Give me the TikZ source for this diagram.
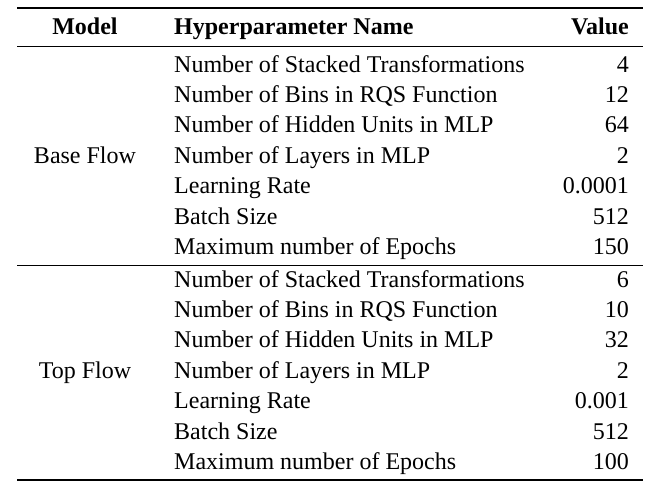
\documentclass[tikz,border=0pt]{standalone}
\usepackage{fontspec}
\setmainfont{Liberation Serif}
\begin{document}
\begin{tikzpicture}[x=1pt,y=-1pt,
  cell/.style={inner sep=0pt,font=\fontsize{24}{27}\selectfont,anchor=base},
  hd/.style={cell,font=\fontsize{24}{27}\selectfont\bfseries}]
\useasboundingbox (0,0) rectangle (657,490);
\draw[line width=1.6pt] (17,8) -- (643,8);
\draw[line width=1pt] (17,46) -- (643,46);
\draw[line width=1pt] (17,265) -- (643,265);
\draw[line width=1.6pt] (17,480) -- (643,480);
\node[hd] (h1) at (85,34) {Model};
\node[hd,anchor=base west] (h2) at (174,34) {Hyperparameter Name};
\node[hd,anchor=base east] (h3) at (629,34) {Value};
\foreach \n [count=\i] in {Number of Stacked Transformations,Number of Bins in RQS Function,Number of Hidden Units in MLP,Number of Layers in MLP,Learning Rate,Batch Size,Maximum number of Epochs}{
  \node[cell,anchor=base west] (a\i) at (174,{72+(\i-1)*30.4}) {\n};
  \node[cell,anchor=base west] (b\i) at (174,{287+(\i-1)*30.4}) {\n};
}
\foreach \v [count=\i] in {4,12,64,2,0.0001,512,150}{
  \node[cell,anchor=base east] (va\i) at (629,{72+(\i-1)*30.4}) {\v};
}
\foreach \v [count=\i] in {6,10,32,2,0.001,512,100}{
  \node[cell,anchor=base east] (vb\i) at (629,{287+(\i-1)*30.4}) {\v};
}
\node[cell] (m1) at (85,163) {Base Flow};
\node[cell] (m2) at (85,378) {Top Flow};
\end{tikzpicture}
\end{document}
